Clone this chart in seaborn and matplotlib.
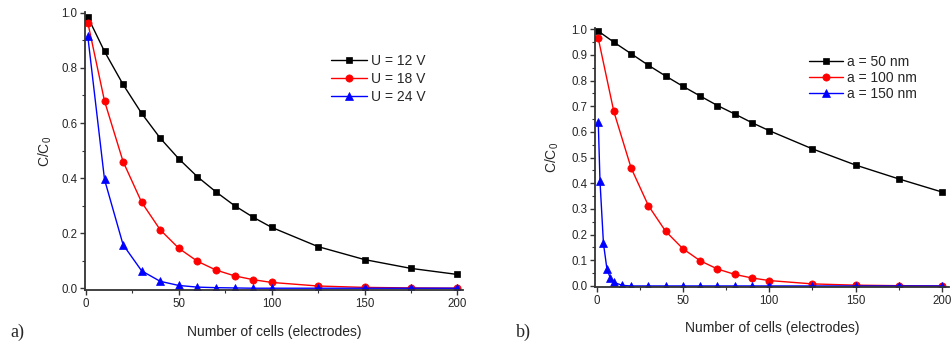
import matplotlib
matplotlib.use('Agg')
import matplotlib.pyplot as plt
import seaborn as sns
from matplotlib.ticker import MultipleLocator

# Data
cells = [1, 10, 20, 30, 40, 50, 60, 70, 80, 90, 100, 125, 150, 175, 200]

# a) different voltages
u12 = [0.985, 0.86, 0.74, 0.635, 0.545, 0.47, 0.405, 0.35, 0.30, 0.258, 0.221, 0.151, 0.104, 0.072, 0.05]
u18 = [0.965, 0.68, 0.46, 0.312, 0.212, 0.145, 0.098, 0.066, 0.045, 0.031, 0.021, 0.008, 0.003, 0.001, 0.0]
u24 = [0.915, 0.395, 0.158, 0.063, 0.025, 0.01, 0.004, 0.002, 0.001, 0.0, 0.0, 0.0, 0.0, 0.0, 0.0]

# b) different particle sizes
a50 = [0.993, 0.95, 0.905, 0.86, 0.818, 0.778, 0.74, 0.703, 0.67, 0.636, 0.605, 0.534, 0.471, 0.417, 0.366]
a100 = [0.965, 0.68, 0.46, 0.313, 0.213, 0.145, 0.098, 0.066, 0.045, 0.031, 0.021, 0.008, 0.003, 0.001, 0.0]
cells_a150 = [1, 2, 4, 6, 8, 10, 15, 20, 30, 40, 50, 60, 70, 80, 90, 100, 125, 150, 175, 200]
a150 = [0.64, 0.408, 0.166, 0.067, 0.03, 0.014, 0.002, 0.0, 0.0, 0.0, 0.0, 0.0, 0.0, 0.0, 0.0, 0.0, 0.0, 0.0, 0.0, 0.0]

labels_a = ['U = 12 V', 'U = 18 V', 'U = 24 V']
labels_b = ['a = 50 nm', 'a = 100 nm', 'a = 150 nm']
colors = ['black', 'red', 'blue']
markers = ['s', 'o', '^']

sns.set_style('ticks')
plt.rcParams['font.family'] = ['Liberation Sans', 'DejaVu Sans']
plt.rcParams['xtick.direction'] = 'out'
plt.rcParams['ytick.direction'] = 'out'

fig = plt.figure(figsize=(9.52, 3.45), dpi=100)
ax1 = fig.add_axes([0.0893, 0.159, 0.397, 0.806])
ax2 = fig.add_axes([0.6248, 0.1667, 0.372, 0.7513])


def draw(ax, series, labels):
    for (xs, ys), lab, c, m in zip(series, labels, colors, markers):
        sns.lineplot(x=xs, y=ys, ax=ax, color=c, marker=m, label=lab,
                     linewidth=1.0, markersize=4.6 if m == 's' else 5.2,
                     markeredgecolor=c, markeredgewidth=0.5)
    sns.despine(ax=ax)
    for s in ['left', 'bottom']:
        ax.spines[s].set_linewidth(1.3)
        ax.spines[s].set_color('#333333')
    ax.set_xlabel('Number of cells (electrodes)', fontsize=10)
    ax.set_ylabel('C/C$_\\mathregular{0}$', fontsize=10)
    ax.xaxis.set_major_locator(MultipleLocator(50))
    ax.xaxis.set_minor_locator(MultipleLocator(25))
    ax.tick_params(which='major', length=3.5, width=1, labelsize=8.3, color='#333333', pad=2)
    ax.tick_params(which='minor', length=2, width=0.8, color='#333333')


draw(ax1, [(cells, u12), (cells, u18), (cells, u24)], labels_a)
ax1.set_xlim(-0.5, 203)
ax1.set_ylim(-0.007, 1.003)
ax1.yaxis.set_major_locator(MultipleLocator(0.2))
ax1.yaxis.set_minor_locator(MultipleLocator(0.1))
ax1.legend(frameon=False, loc='upper left', bbox_to_anchor=(0.635, 0.87), fontsize=10,
           handlelength=2.6, handletextpad=0.3, labelspacing=0.3, borderaxespad=0)
ax1.yaxis.set_label_coords(-0.083, 0.5)
ax1.xaxis.set_label_coords(0.5, -0.125)

draw(ax2, [(cells, a50), (cells, a100), (cells_a150, a150)], labels_b)
ax2.set_xlim(-1, 204)
ax2.set_ylim(-0.006, 1.004)
ax2.yaxis.set_major_locator(MultipleLocator(0.1))
ax2.yaxis.set_minor_locator(MultipleLocator(0.05))
ax2.legend(frameon=False, loc='upper left', bbox_to_anchor=(0.59, 0.92), fontsize=10,
           handlelength=2.4, handletextpad=0.3, labelspacing=0.15, borderaxespad=0)
ax2.yaxis.set_label_coords(-0.095, 0.5)
ax2.xaxis.set_label_coords(0.5, -0.13)

fig.text(0.011, 0.038, 'a)', family='Liberation Serif', fontsize=13, va='center')
fig.text(0.542, 0.038, 'b)', family='Liberation Serif', fontsize=13, va='center')

fig.savefig('out.png', dpi=100)
